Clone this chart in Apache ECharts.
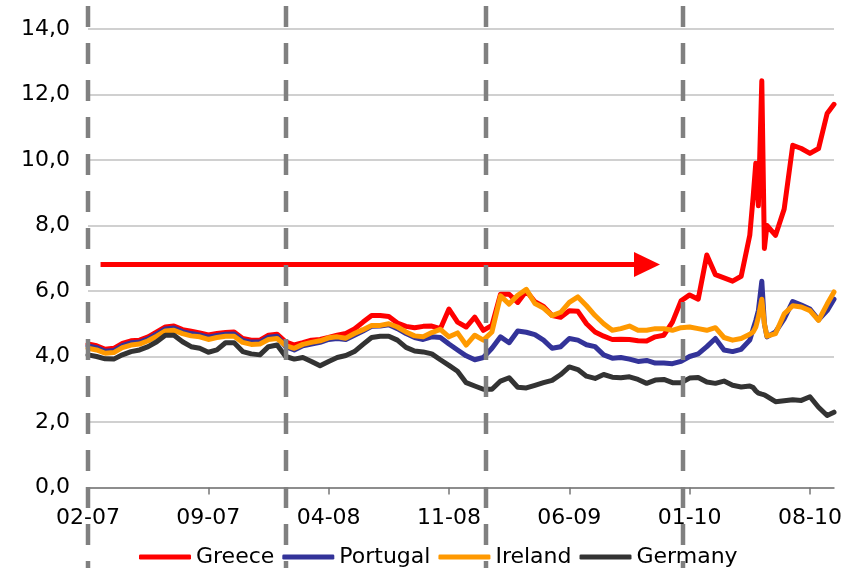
<!DOCTYPE html>
<html>
<head>
<meta charset="utf-8">
<script src="https://cdn.jsdelivr.net/npm/echarts@6.0.0/dist/echarts.min.js"></script>
<style>
html, body { margin: 0; padding: 0; background: #fff; }
#main { width: 851px; height: 568px; }
</style>
</head>
<body>
<div id="main"></div>
<script>
// x = months since 02-2007
var months = [0, 0.5, 1, 1.5, 2, 2.5, 3, 3.5, 4, 4.5,
    5, 5.5, 6, 6.5, 7, 7.5, 8, 8.5, 9, 9.5,
    10, 10.5, 11, 11.5, 12, 12.5, 13, 13.5, 14, 14.5,
    15, 15.5, 16, 16.5, 17, 17.5, 18, 18.5, 19, 19.5,
    20, 20.5, 21, 21.5, 22, 22.5, 23, 23.5, 24, 24.5,
    25, 25.5, 26, 26.5, 27, 27.5, 28, 28.5, 29, 29.5,
    30, 30.5, 31, 31.5, 32, 32.5, 33, 33.5, 34, 34.5,
    35, 35.5, 36, 36.5, 37, 37.5, 38, 38.5,
    38.7, 38.85, 39, 39.2, 39.35, 39.5,
    40, 40.5, 41, 41.5, 42, 42.5, 43, 43.4];

var greece = [4.38, 4.33, 4.22, 4.25, 4.4, 4.48, 4.5, 4.6, 4.75, 4.9,
    4.93, 4.82, 4.77, 4.72, 4.66, 4.7, 4.73, 4.75, 4.55, 4.5,
    4.5, 4.65, 4.68, 4.45, 4.35, 4.42, 4.5, 4.52, 4.58, 4.65,
    4.7, 4.84, 5.05, 5.25, 5.25, 5.22, 5.02, 4.92, 4.88, 4.92,
    4.93, 4.85, 5.45, 5.05, 4.9, 5.2, 4.8, 4.95, 5.9, 5.9,
    5.65, 6.0, 5.67, 5.53, 5.25, 5.2, 5.4, 5.38, 5.0, 4.75,
    4.62, 4.52, 4.53, 4.52, 4.48, 4.47, 4.6, 4.65, 5.05, 5.7,
    5.88, 5.75, 7.1, 6.5, 6.4, 6.3, 6.45, 7.7,
    8.9, 9.9, 8.6, 12.42, 7.3, 8.0,
    7.7, 8.5, 10.45, 10.35, 10.2, 10.35, 11.42, 11.7];

var portugal = [4.32, 4.27, 4.16, 4.18, 4.33, 4.42, 4.44, 4.54, 4.69, 4.84,
    4.87, 4.76, 4.7, 4.66, 4.59, 4.64, 4.68, 4.69, 4.49, 4.44,
    4.44, 4.59, 4.62, 4.3, 4.2, 4.33, 4.38, 4.43, 4.52, 4.55,
    4.52, 4.65, 4.78, 4.92, 4.93, 4.97, 4.85, 4.7, 4.58, 4.52,
    4.6, 4.58, 4.38, 4.2, 4.02, 3.9, 3.97, 4.25, 4.6, 4.42,
    4.78, 4.74, 4.67, 4.5, 4.25, 4.3, 4.55, 4.5, 4.36, 4.3,
    4.05, 3.95, 3.97, 3.92, 3.85, 3.88, 3.8, 3.8, 3.78, 3.85,
    4.0, 4.08, 4.3, 4.55, 4.2, 4.15, 4.22, 4.5,
    4.85, 5.1, 5.4, 6.3, 5.0, 4.6,
    4.75, 5.15, 5.68, 5.57, 5.45, 5.12, 5.4, 5.75];

var ireland = [4.25, 4.2, 4.1, 4.12, 4.27, 4.35, 4.38, 4.48, 4.62, 4.78,
    4.8, 4.7, 4.63, 4.6, 4.52, 4.58, 4.62, 4.62, 4.43, 4.37,
    4.38, 4.52, 4.55, 4.33, 4.25, 4.37, 4.43, 4.48, 4.57, 4.6,
    4.56, 4.7, 4.82, 4.95, 4.95, 5.0, 4.9, 4.75, 4.63, 4.6,
    4.73, 4.83, 4.6, 4.72, 4.35, 4.65, 4.5, 4.75, 5.85, 5.6,
    5.87, 6.05, 5.62, 5.48, 5.25, 5.35, 5.65, 5.82, 5.55, 5.25,
    5.0, 4.8, 4.85, 4.93, 4.8, 4.8, 4.85, 4.85, 4.8, 4.88,
    4.9, 4.85, 4.8, 4.88, 4.58, 4.5, 4.55, 4.68,
    4.75, 4.9, 5.2, 5.75, 5.0, 4.62,
    4.7, 5.3, 5.55, 5.51, 5.4, 5.1, 5.6, 5.97];

var germany = [4.05, 4.0, 3.93, 3.92, 4.05, 4.15, 4.2, 4.3, 4.45, 4.65,
    4.65, 4.45, 4.3, 4.25, 4.13, 4.2, 4.42, 4.42, 4.15, 4.08,
    4.05, 4.3, 4.35, 4.0, 3.92, 3.97, 3.85, 3.72, 3.85, 3.97,
    4.03, 4.15, 4.37, 4.58, 4.62, 4.62, 4.5, 4.28, 4.17, 4.14,
    4.08, 3.9, 3.73, 3.55, 3.2, 3.1, 3.0, 3.0, 3.25, 3.35,
    3.06, 3.04, 3.12, 3.2, 3.27, 3.45, 3.68, 3.6, 3.4, 3.33,
    3.45, 3.37, 3.35, 3.38, 3.3, 3.18, 3.28, 3.3, 3.2, 3.2,
    3.34, 3.36, 3.22, 3.18, 3.25, 3.12, 3.07, 3.1,
    3.05, 2.95, 2.88, 2.85, 2.83, 2.78,
    2.62, 2.65, 2.68, 2.66, 2.77, 2.45, 2.2, 2.3];

var labelMonths = [0, 7, 14, 21, 28, 35, 42];
var dashMonths = [0, 11.52, 23.15, 34.61];
var arrowFrom = [0.73, 6.81];
var arrowTo = [32.52, 6.81];

var FONT = 'DejaVu Sans';

function pad(n) {
    return (n < 10 ? '0' : '') + n;
}
//月份序号 -> MM-YY
function monthLabel(v) {
    var t = Math.round(v) + 1;
    return pad(t % 12 + 1) + '-' + pad(7 + Math.floor(t / 12));
}
function pairs(vals) {
    return months.map(function (m, i) { return [m, vals[i]]; });
}
function lineSeries(name, vals, color) {
    return {
        name: name,
        type: 'line',
        data: pairs(vals),
        showSymbol: false,
        symbol: 'none',
        color: color,
        lineStyle: { width: 5, color: color, join: 'round', cap: 'round' },
        emphasis: { disabled: true }
    };
}

var myChart = echarts.init(document.getElementById('main'));

var Series = [
    lineSeries('Greece', greece, '#FF0000'),
    lineSeries('Portugal', portugal, '#333399'),
    lineSeries('Ireland', ireland, '#FF9900'),
    lineSeries('Germany', germany, '#333333')
];
Series[0].markLine = {
    silent: true,
    symbol: ['none', 'triangle'],
    symbolSize: [25, 26],
    label: { show: false },
    lineStyle: { type: 'solid', width: 5, color: '#FF0000' },
    data: [[{ coord: arrowFrom }, { coord: arrowTo }]]
};
Series[0].markLine.z = 10;

var option = {
    animation: false,
    backgroundColor: '#fff',
    grid: { left: 88, right: 17, top: 29, bottom: 80.5 },
    legend: {
        data: ['Greece', 'Portugal', 'Ireland', 'Germany'],
        left: 134,
        top: 541,
        icon: 'roundRect',
        itemWidth: 52,
        itemHeight: 5,
        itemGap: 8,
        textStyle: { fontFamily: FONT, fontSize: 22, color: '#000' }
    },
    xAxis: {
        type: 'value',
        min: 0,
        max: 43.4,
        interval: 7,
        axisLine: { show: true, lineStyle: { color: '#777', width: 1.5 } },
        axisTick: {
            show: true,
            inside: false,
            length: 7,
            customValues: labelMonths,
            lineStyle: { color: '#777', width: 1.5 }
        },
        axisLabel: {
            customValues: labelMonths,
            margin: 20,
            fontFamily: FONT,
            fontSize: 22,
            color: '#000',
            formatter: monthLabel
        },
        splitLine: { show: false }
    },
    yAxis: {
        type: 'value',
        min: 0,
        max: 14,
        interval: 2,
        axisLine: { show: false },
        axisTick: { show: false },
        axisLabel: {
            margin: 18,
            fontFamily: FONT,
            fontSize: 22,
            color: '#000',
            formatter: function (v) { return v.toFixed(1).replace('.', ','); }
        },
        splitLine: { lineStyle: { color: '#c0c0c0', width: 1.5 } }
    },
    series: Series
};
myChart.setOption(option);

// 虚线竖线 (超出绘图区，用 graphic 画)
var dashes = dashMonths.map(function (m) {
    var x = Math.round(myChart.convertToPixel({ xAxisIndex: 0 }, m));
    return {
        type: 'line',
        silent: true,
        z: 100,
        shape: { x1: x, y1: 6, x2: x, y2: 568 },
        style: { stroke: '#808080', lineWidth: 4.5, lineDash: [21, 16] }
    };
});
myChart.setOption({ graphic: dashes });
</script>
</body>
</html>
